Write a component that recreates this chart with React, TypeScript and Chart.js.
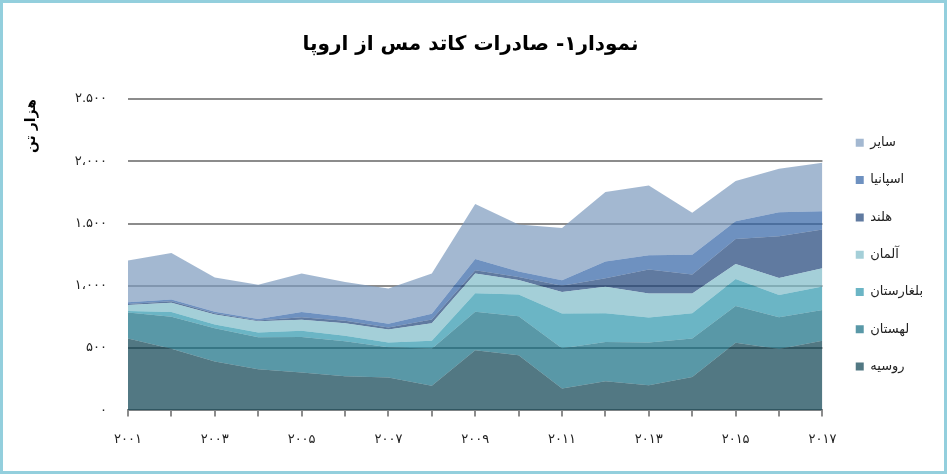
import { useEffect, useRef } from "react";
import { Chart, registerables, type ChartConfiguration } from "chart.js";

Chart.register(...registerables);

const TITLE = "نمودار۱- صادرات کاتد مس از اروپا";
const Y_TITLE = "هزار تن";

const years = [
  "۲۰۰۱", "۲۰۰۲", "۲۰۰۳", "۲۰۰۴", "۲۰۰۵", "۲۰۰۶", "۲۰۰۷", "۲۰۰۸", "۲۰۰۹",
  "۲۰۱۰", "۲۰۱۱", "۲۰۱۲", "۲۰۱۳", "۲۰۱۴", "۲۰۱۵", "۲۰۱۶", "۲۰۱۷",
];
const yTickLabels = ["۰", "۵۰۰", "۱،۰۰۰", "۱.۵۰۰", "۲،۰۰۰", "۲.۵۰۰"];

// thousand tonnes, bottom of the stack first
const russia = [577, 495, 393, 330, 305, 275, 265, 198, 483, 443, 175, 234, 202, 269, 543, 492, 559];
const poland = [209, 257, 266, 258, 285, 280, 242, 296, 309, 313, 323, 316, 343, 309, 296, 255, 247];
const bulgaria = [12, 38, 31, 37, 50, 45, 39, 66, 148, 174, 279, 230, 200, 202, 215, 180, 189];
const germany = [48, 75, 80, 90, 87, 100, 104, 140, 160, 116, 173, 213, 193, 158, 121, 135, 147];
const netherlands = [9, 11, 10, 7, 21, 20, 15, 30, 25, 24, 50, 68, 194, 154, 201, 336, 310];
const spain = [14, 14, 12, 12, 42, 30, 30, 45, 90, 45, 45, 134, 113, 158, 143, 193, 147];
const others = [335, 373, 275, 274, 310, 280, 283, 325, 443, 377, 420, 558, 561, 336, 322, 350, 390];

const series = [
  { label: "روسیه", data: russia, color: "rgba(8,62,78,0.7)" },
  { label: "لهستان", data: poland, color: "rgba(19,108,129,0.7)" },
  { label: "بلغارستان", data: bulgaria, color: "rgba(44,149,172,0.7)" },
  { label: "آلمان", data: germany, color: "rgba(125,187,199,0.7)" },
  { label: "هلند", data: netherlands, color: "rgba(28,65,119,0.7)" },
  { label: "اسپانیا", data: spain, color: "rgba(48,99,165,0.7)" },
  { label: "سایر", data: others, color: "rgba(124,154,189,0.7)" },
];

const FONT = "DejaVu Sans";
const AXIS_GRAY = "#8c8c8c";

export default function App() {
  const canvasRef = useRef<HTMLCanvasElement>(null);
  const chartRef = useRef<Chart | null>(null);

  useEffect(() => {
    const ctx = canvasRef.current?.getContext("2d");
    if (!ctx) return;
    chartRef.current?.destroy();

    const config: ChartConfiguration = {
      type: "line",
      data: {
        labels: years,
        datasets: series.map((s, i) => ({
          label: s.label,
          data: s.data,
          backgroundColor: s.color,
          borderColor: s.color,
          borderWidth: 0,
          pointRadius: 0,
          tension: 0,
          fill: i === 0 ? "origin" : "-1",
        })),
      },
      options: {
        responsive: true,
        maintainAspectRatio: false,
        animation: false,
        layout: { padding: { left: 5, right: 11, top: 0, bottom: 9 } },
        plugins: {
          title: {
            display: true,
            text: TITLE,
            color: "#000",
            font: { family: FONT, size: 20, weight: "bold" },
            padding: { top: 30, bottom: 42 },
          },
          legend: {
            position: "right",
            reverse: true,
            fullSize: false,
            labels: {
              boxWidth: 8,
              boxHeight: 8,
              padding: 24.3,
              color: "#222",
              font: { family: FONT, size: 13 },
            },
          },
          tooltip: { enabled: false },
        },
        scales: {
          x: {
            ticks: {
              autoSkip: false,
              maxRotation: 0,
              padding: 15,
              color: "#222",
              font: { family: FONT, size: 13 },
              callback: (_v, i) => (i % 2 === 0 ? years[i] : ""),
            },
            grid: { drawOnChartArea: false, drawTicks: true, tickLength: 6, color: AXIS_GRAY, lineWidth: 2 },
            border: { color: AXIS_GRAY, width: 2 },
          },
          y: {
            stacked: true,
            min: 0,
            max: 2500,
            ticks: {
              stepSize: 500,
              padding: 21,
              color: "#222",
              font: { family: FONT, size: 13 },
              callback: (_v, i) => yTickLabels[i],
            },
            grid: { color: AXIS_GRAY, lineWidth: 2, drawTicks: false },
            border: { display: false },
            title: {
              display: true,
              text: Y_TITLE,
              align: "end",
              color: "#000",
              font: { family: FONT, size: 14, weight: "bold" },
              padding: { top: 15, bottom: 0 },
            },
            afterFit: (s) => {
              s.width = 120;
            },
          },
          // spacer between plot and legend
          gap: {
            type: "linear",
            position: "right",
            grid: { display: false },
            border: { display: false },
            ticks: { display: false },
            afterFit: (s) => {
              s.width = 9;
            },
          },
        },
      },
    };

    chartRef.current = new Chart(ctx, config);
    return () => chartRef.current?.destroy();
  }, []);

  return (
    <div
      style={{
        position: "fixed",
        left: 0,
        top: 0,
        width: 947,
        height: 474,
        boxSizing: "border-box",
        border: "3px solid #93cfdd",
        background: "#fff",
      }}
    >
      <div style={{ position: "relative", width: 941, height: 468 }}>
        <canvas ref={canvasRef} />
      </div>
    </div>
  );
}
